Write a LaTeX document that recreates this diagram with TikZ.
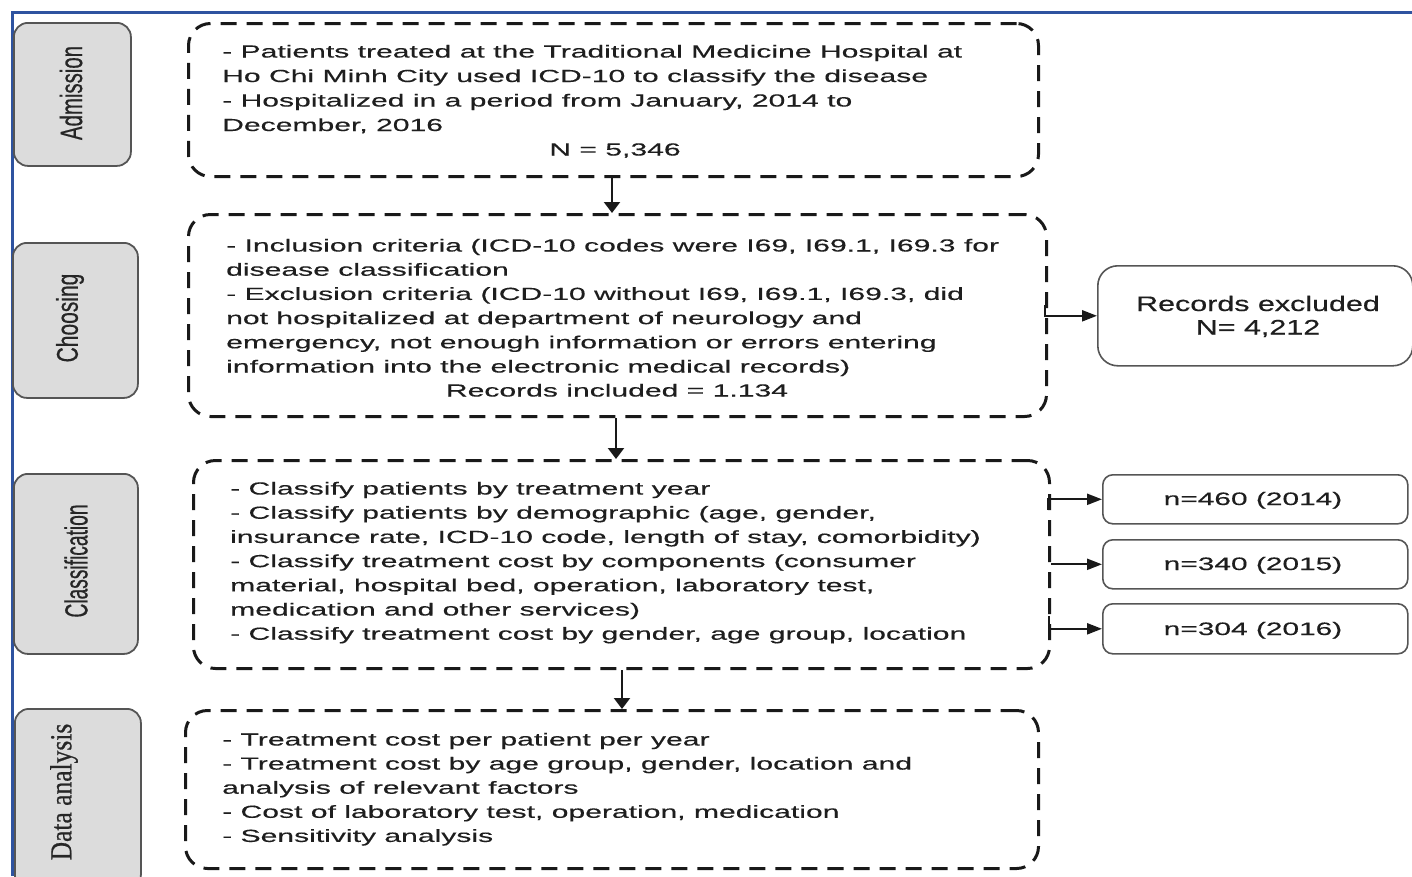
\documentclass[tikz,border=0pt]{standalone}
\usepackage{fontspec}
\setmainfont{Liberation Sans}
\newfontfamily\mainfnt[FakeStretch=1.72,FakeBold=0.4]{Liberation Sans}
\newfontfamily\recfnt[FakeStretch=1.45,FakeBold=0.4]{Liberation Sans}
\newfontfamily\yrfnt[FakeStretch=1.66,FakeBold=0.4]{Liberation Sans}
\newfontfamily\labfnt[FakeBold=0.6]{Liberation Sans}
\newfontfamily\serfnt[FakeBold=0.6]{Liberation Serif}
\usetikzlibrary{arrows.meta}
\definecolor{frameblue}{HTML}{2E53A0}
\definecolor{stagefill}{HTML}{DCDCDC}
\definecolor{stageline}{HTML}{555555}
\definecolor{txt}{HTML}{1E1E1E}
\tikzset{
  stagebox/.style={draw=stageline, fill=stagefill, line width=1.8pt, rounded corners=14pt, anchor=north west, inner sep=0pt},
  dbox/.style={draw=black!90, line width=3pt, dash pattern=on 16pt off 10pt, rounded corners=22pt, anchor=north west, inner sep=0pt},
  rbox/.style={draw=stageline, line width=1.6pt, anchor=north west, inner sep=0pt},
  varr/.style={draw=black!90, line width=2.2pt, -{Triangle[length=11pt,width=16pt]}},
  harr/.style={draw=black!90, line width=2.2pt, -{Triangle[length=15pt,width=11pt]}},
  mtxt/.style={font=\mainfnt\fontsize{17.5}{20}\selectfont, text=txt, inner sep=0pt, anchor=base west},
  ctxt/.style={font=\mainfnt\fontsize{17.5}{20}\selectfont, text=txt, inner sep=0pt, anchor=base},
  lab/.style={rotate=90, text=black!85, inner sep=0pt}
}
\begin{document}
\begin{tikzpicture}[x=1pt,y=-1pt]
\useasboundingbox (0,0) rectangle (1412,876);
% frame lines
\draw[frameblue, line width=3pt] (11,12) -- (1412,12);
\draw[frameblue, line width=3pt] (12,12) -- (12,876);

% stage boxes
\node[stagebox, minimum width=117pt, minimum height=143pt] (s1) at (13,22) {};
\node[stagebox, minimum width=125pt, minimum height=155pt] (s2) at (12,242) {};
\node[stagebox, minimum width=124pt, minimum height=180pt] (s3) at (13,473) {};
\node[stagebox, minimum width=126pt, minimum height=180pt] (s4) at (14,708) {};
\node[lab] (l1) at (71,93) {\labfnt\fontsize{20}{20}\selectfont\scalebox{1.02}[1.55]{Admission}};
\node[lab] (l2) at (70,318) {\labfnt\fontsize{20}{20}\selectfont\scalebox{1.05}[1.5]{Choosing}};
\node[lab] (l3) at (76,561) {\labfnt\fontsize{20}{20}\selectfont\scalebox{0.96}[1.6]{Classification}};
\node[lab] (l4) at (64,792) {\serfnt\fontsize{25}{25}\selectfont\scalebox{1.02}[1.22]{Data analysis}};

% dashed boxes
\node[dbox, minimum width=850pt, minimum height=153pt] (b1) at (187,22) {};
\node[dbox, minimum width=858pt, minimum height=202pt] (b2) at (187,213) {};
\node[dbox, minimum width=856pt, minimum height=208pt] (b3) at (192,459) {};
\node[dbox, minimum width=853pt, minimum height=158pt] (b4) at (184,709) {};

% box 1 text
\foreach \t [count=\i] in {{- Patients treated at the Traditional Medicine Hospital at},
  {Ho Chi Minh City used ICD-10 to classify the disease},
  {- Hospitalized in a period from January, 2014 to},
  {December, 2016}}
  \node[mtxt] (t1-\i) at (222,{57.5+24.5*(\i-1)}) {\t};
\node[ctxt] (t1-n) at (615,155.5) {N = 5,346};

% box 2 text
\foreach \t [count=\i] in {{- Inclusion criteria (ICD-10 codes were I69, I69.1, I69.3 for},
  {disease classification},
  {- Exclusion criteria (ICD-10 without I69, I69.1, I69.3, did},
  {not hospitalized at department of neurology and},
  {emergency, not enough information or errors entering},
  {information into the electronic medical records)}}
  \node[mtxt] (t2-\i) at (226,{251.5+24.2*(\i-1)}) {\t};
\node[ctxt] (t2-n) at (617,396.5) {Records included = 1.134};

% box 3 text
\foreach \t [count=\i] in {{- Classify patients by treatment year},
  {- Classify patients by demographic (age, gender,},
  {insurance rate, ICD-10 code, length of stay, comorbidity)},
  {- Classify treatment cost by components (consumer},
  {material, hospital bed, operation, laboratory test,},
  {medication and other services)},
  {- Classify treatment cost by gender, age group, location}}
  \node[mtxt] (t3-\i) at (230,{494.5+24.2*(\i-1)}) {\t};

% box 4 text
\foreach \t [count=\i] in {{- Treatment cost per patient per year},
  {- Treatment cost by age group, gender, location and},
  {analysis of relevant factors},
  {- Cost of laboratory test, operation, medication},
  {- Sensitivity analysis}}
  \node[mtxt] (t4-\i) at (222,{745.5+24.1*(\i-1)}) {\t};

% right boxes
\node[rbox, rounded corners=20pt, minimum width=315pt, minimum height=100pt] (rex) at (1097,265) {};
\node[font=\recfnt\fontsize{21}{21}\selectfont, text=txt, inner sep=0pt, anchor=base] (rex-1) at (1258,311) {Records excluded};
\node[font=\recfnt\fontsize{21}{21}\selectfont, text=txt, inner sep=0pt, anchor=base] (rex-2) at (1258,334.5) {N= 4,212};

\node[rbox, rounded corners=10pt, minimum width=305pt, minimum height=49pt] (y1) at (1102,474) {};
\node[rbox, rounded corners=10pt, minimum width=305pt, minimum height=49pt] (y2) at (1102,539) {};
\node[rbox, rounded corners=10pt, minimum width=305pt, minimum height=50pt] (y3) at (1102,603) {};
\node[font=\yrfnt\fontsize{18}{18}\selectfont, text=txt, inner sep=0pt, anchor=base] (y1t) at (1253,505) {n=460 (2014)};
\node[font=\yrfnt\fontsize{18}{18}\selectfont, text=txt, inner sep=0pt, anchor=base] (y2t) at (1253,570) {n=340 (2015)};
\node[font=\yrfnt\fontsize{18}{18}\selectfont, text=txt, inner sep=0pt, anchor=base] (y3t) at (1253,635) {n=304 (2016)};

% vertical connectors
\coordinate (a1) at (612,0);
\coordinate (a2) at (616,0);
\coordinate (a3) at (622,0);
\draw[varr] (a1 |- b1.south) -- (a1 |- b2.north);
\draw[varr] (a2 |- b2.south) -- (a2 |- b3.north);
\draw[varr] (a3 |- b3.south) -- (a3 |- b4.north);

% side connectors
\coordinate (c1) at (1045,305);
\coordinate (c2) at (1048,510);
\coordinate (c3) at (1049,616);
\draw[harr] (c1) |- (rex.west);
\draw[harr] (c2) |- (y1.west);
\draw[harr] (b3.east |- y2.west) -- (y2.west);
\draw[harr] (c3) |- (y3.west);
\end{tikzpicture}
\end{document}
